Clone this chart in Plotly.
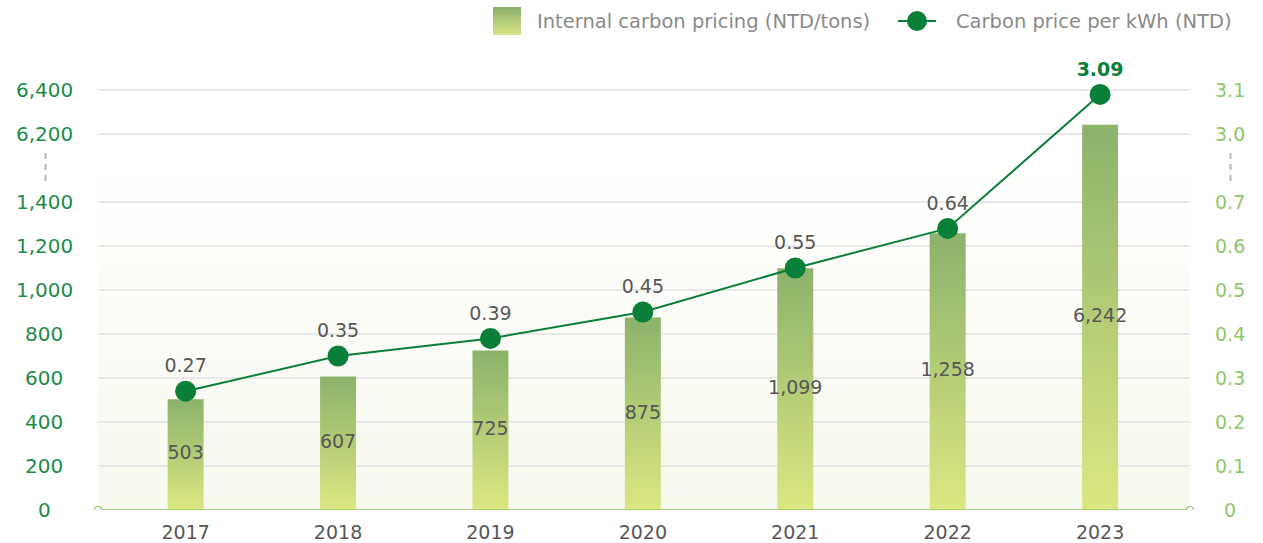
import plotly.graph_objects as go

# ---- data -------------------------------------------------------------
years = ["2017", "2018", "2019", "2020", "2021", "2022", "2023"]
internal_price = [503, 607, 725, 875, 1099, 1258, 6242]          # NTD/tons
kwh_price = [0.27, 0.35, 0.39, 0.45, 0.55, 0.64, 3.09]           # NTD

left_ticks = [0, 200, 400, 600, 800, 1000, 1200, 1400, 6200, 6400]
right_ticks = [0, 0.1, 0.2, 0.3, 0.4, 0.5, 0.6, 0.7, 3.0, 3.1]
right_tick_text = ["0", "0.1", "0.2", "0.3", "0.4", "0.5", "0.6", "0.7", "3.0", "3.1"]

bar_name = "Internal carbon pricing (NTD/tons)"
line_name = "Carbon price per kWh (NTD)"

# ---- broken-axis mapping ---------------------------------------------
LOW_END, HIGH_START, GAP = 1400, 6200, 309      # left-axis units
R_LOW_END, R_HIGH_START = 0.7, 3.0
R_SCALE = LOW_END / R_LOW_END                   # right -> left units


def squash(v):
    return v if v <= LOW_END else v - HIGH_START + LOW_END + GAP


def squash_right(r):
    if r <= R_LOW_END:
        return r * R_SCALE
    return squash((r - R_HIGH_START) * R_SCALE + HIGH_START)


# ---- geometry ---------------------------------------------------------
W, H = 1263, 543
ML, MR, MT, MB = 98, 73, 40, 33
PW, PH = W - ML - MR, H - MT - MB
PX_PER_UNIT = 0.22
Y_TOP = PH / PX_PER_UNIT


def px_to_paper_x(px):
    return (px - ML) / PW


def px_to_paper_y(py):
    return (H - MB - py) / PH


def py_to_val(py):
    return (H - MB - py) / PX_PER_UNIT


xs = list(range(len(years)))
BAR_W = 0.236

FONT = "DejaVu Sans"
GREEN_DARK = "#0a7f37"
GREEN_LEFT = "#1c8c48"
GREEN_RIGHT = "#8cc86a"
GRAY_TEXT = "#575757"
LEGEND_TEXT = "#8a8a8a"
BAR_BOTTOM, BAR_TOP = "#dde782", "#8bb26b"

fig = go.Figure()

# bars with vertical gradient
for x, v in zip(xs, internal_price):
    h = squash(v)
    fig.add_trace(go.Scatter(
        x=[x - BAR_W / 2, x + BAR_W / 2, x + BAR_W / 2, x - BAR_W / 2, x - BAR_W / 2],
        y=[0, 0, h, h, 0],
        mode="lines", fill="toself", line=dict(width=0),
        fillgradient=dict(type="vertical",
                          colorscale=[[0, BAR_BOTTOM], [1, BAR_TOP]]),
        name=bar_name, showlegend=False, hoverinfo="skip",
    ))

# value labels centred in the bars
fig.add_trace(go.Scatter(
    x=xs, y=[squash(v) / 2 for v in internal_price],
    mode="text", text=[f"{v:,}" for v in internal_price],
    textfont=dict(family=FONT, size=19, color=GRAY_TEXT),
    showlegend=False, hoverinfo="skip",
))

# carbon price per kWh line
line_text = [f"{v:.2f}" for v in kwh_price]
line_text[-1] = f"<b>{kwh_price[-1]:.2f}</b>"
text_colors = [GRAY_TEXT] * (len(kwh_price) - 1) + [GREEN_DARK]
fig.add_trace(go.Scatter(
    x=xs, y=[squash_right(v) for v in kwh_price],
    mode="lines+markers+text",
    line=dict(color=GREEN_DARK, width=2),
    marker=dict(color=GREEN_DARK, size=21),
    text=line_text, textposition="top center",
    textfont=dict(family=FONT, size=19, color=text_colors),
    name=line_name, showlegend=False,
    yaxis="y2", hoverinfo="skip",
))

shapes = []

# soft background band under the lower section
n_bands = 24
top_val = py_to_val(150)
for k in range(n_bands):
    t = k / (n_bands - 1)
    r = round(255 + (247 - 255) * t)
    g = round(255 + (249 - 255) * t)
    b = round(255 + (237 - 255) * t)
    shapes.append(dict(type="rect", xref="paper", yref="y", layer="below",
                       x0=0, x1=1,
                       y0=top_val * (1 - (k + 1) / n_bands),
                       y1=top_val * (1 - k / n_bands),
                       fillcolor=f"rgb({r},{g},{b})", line=dict(width=0)))

# baseline with end circles
shapes.append(dict(type="line", xref="paper", yref="y", x0=0, x1=1, y0=0, y1=0,
                   line=dict(color=GREEN_RIGHT, width=1.5), layer="above"))
for px in (0, 1):
    shapes.append(dict(type="circle", xref="paper", yref="y",
                       xsizemode="pixel", ysizemode="pixel", xanchor=px, yanchor=0,
                       x0=-3.5, x1=3.5, y0=-3.5, y1=3.5,
                       line=dict(color=GREEN_RIGHT, width=1.2), fillcolor="white",
                       layer="above"))

# axis break marks
for px in (45.5, 1230.5):
    shapes.append(dict(type="line", xref="paper", yref="y",
                       x0=px_to_paper_x(px), x1=px_to_paper_x(px),
                       y0=py_to_val(153), y1=py_to_val(183),
                       line=dict(color="#b5b5b5", width=2, dash="6px,5px")))

# legend: gradient swatch
sw_x0, sw_x1, sw_y0, sw_y1 = 493, 521, 7, 35
n_sw = 14
c_top = tuple(int(BAR_TOP[i:i + 2], 16) for i in (1, 3, 5))
c_bot = (0xd6, 0xe2, 0x83)
for k in range(n_sw):
    t = k / (n_sw - 1)
    col = tuple(round(a + (b_ - a) * t) for a, b_ in zip(c_top, c_bot))
    ya = sw_y0 + (sw_y1 - sw_y0) * k / n_sw
    yb = sw_y0 + (sw_y1 - sw_y0) * (k + 1) / n_sw
    shapes.append(dict(type="rect", xref="paper", yref="paper",
                       x0=px_to_paper_x(sw_x0), x1=px_to_paper_x(sw_x1),
                       y0=px_to_paper_y(yb), y1=px_to_paper_y(ya),
                       fillcolor=f"rgb{col}", line=dict(width=0)))

# legend: line + marker symbol
ly = px_to_paper_y(21)
shapes.append(dict(type="line", xref="paper", yref="paper",
                   x0=px_to_paper_x(898), x1=px_to_paper_x(936), y0=ly, y1=ly,
                   line=dict(color=GREEN_DARK, width=2)))
shapes.append(dict(type="circle", xref="paper", yref="paper",
                   xsizemode="pixel", ysizemode="pixel",
                   xanchor=px_to_paper_x(917), yanchor=ly,
                   x0=-10, x1=10, y0=-10, y1=10,
                   fillcolor=GREEN_DARK, line=dict(width=0)))

annotations = []
for txt, px in ((bar_name, 535), (line_name, 954)):
    annotations.append(dict(xref="paper", yref="paper", x=px_to_paper_x(px), y=ly,
                            text=txt, showarrow=False, xanchor="left",
                            yanchor="middle",
                            font=dict(family=FONT, size=19.5, color=LEGEND_TEXT)))

# centred tick labels
for v in left_ticks:
    annotations.append(dict(xref="paper", yref="y", x=0, xshift=-54, y=squash(v),
                            text=f"{v:,}", showarrow=False, xanchor="center",
                            yanchor="middle",
                            font=dict(family=FONT, size=20, color=GREEN_LEFT)))
for v, t in zip(right_ticks, right_tick_text):
    annotations.append(dict(xref="paper", yref="y", x=1, xshift=40, y=squash_right(v),
                            text=t, showarrow=False, xanchor="center",
                            yanchor="middle",
                            font=dict(family=FONT, size=19, color=GREEN_RIGHT)))

grid_vals = [squash(v) for v in left_ticks if v > 0]

fig.update_layout(
    width=W, height=H,
    margin=dict(l=ML, r=MR, t=MT, b=MB, autoexpand=False),
    paper_bgcolor="white", plot_bgcolor="rgba(0,0,0,0)",
    font=dict(family=FONT, color=GRAY_TEXT),
    xaxis=dict(range=[-0.575, 6.59], tickvals=xs, ticktext=years,
               showgrid=False, zeroline=False, showline=False, automargin=False,
               ticklabelstandoff=9,
               tickfont=dict(family=FONT, size=19, color=GRAY_TEXT), ticks=""),
    yaxis=dict(range=[0, Y_TOP], tickvals=grid_vals, showticklabels=False,
               showgrid=True, gridcolor="#e8e8e8", gridwidth=2, automargin=False,
               zeroline=False, showline=False, ticks=""),
    yaxis2=dict(range=[0, Y_TOP], overlaying="y", side="right", automargin=False,
                showticklabels=False, showgrid=False, zeroline=False,
                showline=False, ticks=""),
    shapes=shapes,
    annotations=annotations,
    showlegend=False,
)

fig.write_html("out.html")
